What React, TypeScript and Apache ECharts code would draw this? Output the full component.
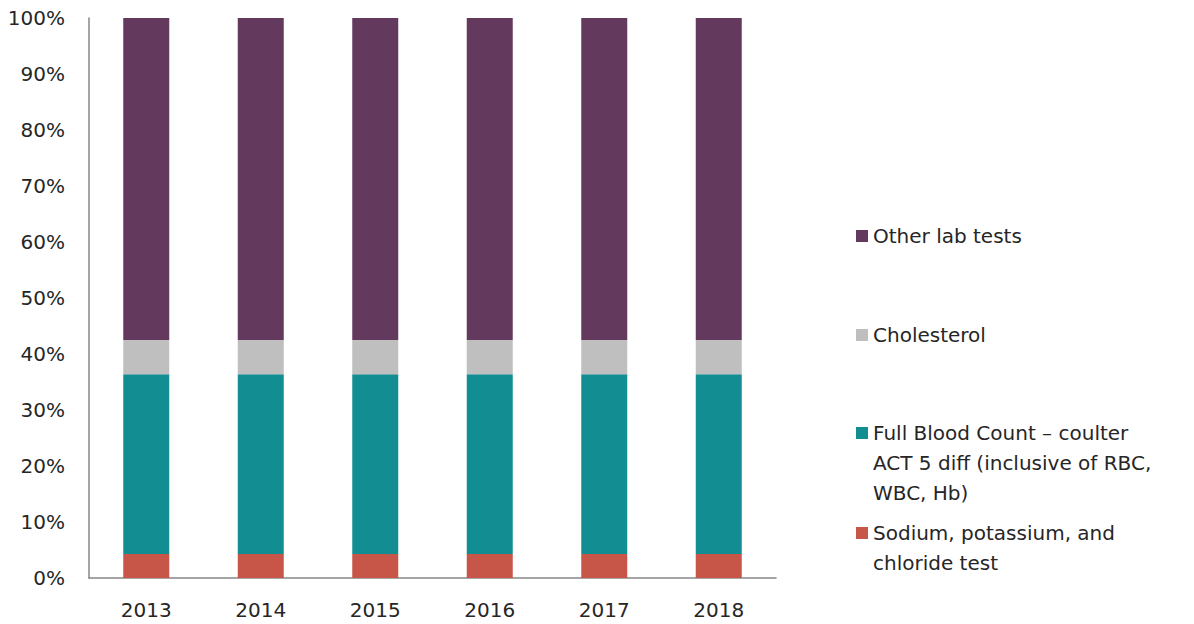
import React, { useEffect, useRef } from "react";
import * as echarts from "echarts";

const years = ["2013", "2014", "2015", "2016", "2017", "2018"];
const sodium = [4.3, 4.3, 4.3, 4.3, 4.3, 4.3];
const fullBloodCount = [32.1, 32.1, 32.1, 32.1, 32.1, 32.1];
const cholesterol = [6.1, 6.1, 6.1, 6.1, 6.1, 6.1];
const otherTests = [57.5, 57.5, 57.5, 57.5, 57.5, 57.5];

const names = {
  sodium: "Sodium, potassium, and\nchloride test",
  fbc: "Full Blood Count \u2013 coulter\nACT 5 diff (inclusive of RBC,\nWBC, Hb)",
  chol: "Cholesterol",
  other: "Other lab tests",
};

const FONT = "DejaVu Sans";
const TEXT = "#262626";
const LH = 30;

function legendFor(name: string, firstLineCenter: number, lines: number) {
  const h = lines * LH;
  // square icon placed level with the first text line
  const icon =
    lines === 1
      ? "rect"
      : `path://M0,9L12,9L12,21L0,21Z M0,0 M0,${h}`;
  return {
    data: [{ name, icon }],
    left: 856,
    top: firstLineCenter - LH / 2,
    orient: "vertical" as const,
    padding: 0,
    itemWidth: 12,
    itemHeight: lines === 1 ? 12 : h,
    itemGap: 0,
    selectedMode: false,
    textStyle: {
      fontFamily: FONT,
      fontSize: 20,
      color: TEXT,
      lineHeight: LH,
    },
  };
}

export default function App() {
  const ref = useRef<HTMLDivElement>(null);
  useEffect(() => {
    if (!ref.current) return;
    const chart = echarts.init(ref.current, undefined, { renderer: "svg" });
    const bar = (name: string, data: number[], color: string) => ({
      name,
      type: "bar",
      stack: "total",
      data,
      barWidth: 46,
      itemStyle: { color },
      emphasis: { disabled: true },
    });
    chart.setOption({
      animation: false,
      grid: { left: 89, right: 418, top: 18, bottom: 46 },
      legend: [
        legendFor(names.other, 236, 1),
        legendFor(names.chol, 335, 1),
        legendFor(names.fbc, 433, 3),
        legendFor(names.sodium, 533, 2),
      ],
      xAxis: {
        type: "category",
        data: years,
        axisLine: { lineStyle: { color: "#878787", width: 1.5 } },
        axisTick: { show: false },
        axisLabel: { fontFamily: FONT, fontSize: 20, color: TEXT, margin: 22 },
      },
      yAxis: {
        type: "value",
        min: 0,
        max: 100,
        interval: 10,
        axisLine: { show: true, lineStyle: { color: "#878787", width: 1.5 } },
        axisTick: { show: false },
        splitLine: { show: false },
        axisLabel: {
          fontFamily: FONT,
          fontSize: 20,
          color: TEXT,
          margin: 24,
          formatter: "{value}%",
        },
      },
      series: [
        bar(names.sodium, sodium, "#C75548"),
        bar(names.fbc, fullBloodCount, "#128E93"),
        bar(names.chol, cholesterol, "#BFBFBF"),
        bar(names.other, otherTests, "#633A5E"),
      ],
    });
    return () => chart.dispose();
  }, []);
  return (
    <div
      ref={ref}
      style={{ position: "fixed", left: 0, top: 0, width: 1194, height: 624, background: "#fff" }}
    />
  );
}
